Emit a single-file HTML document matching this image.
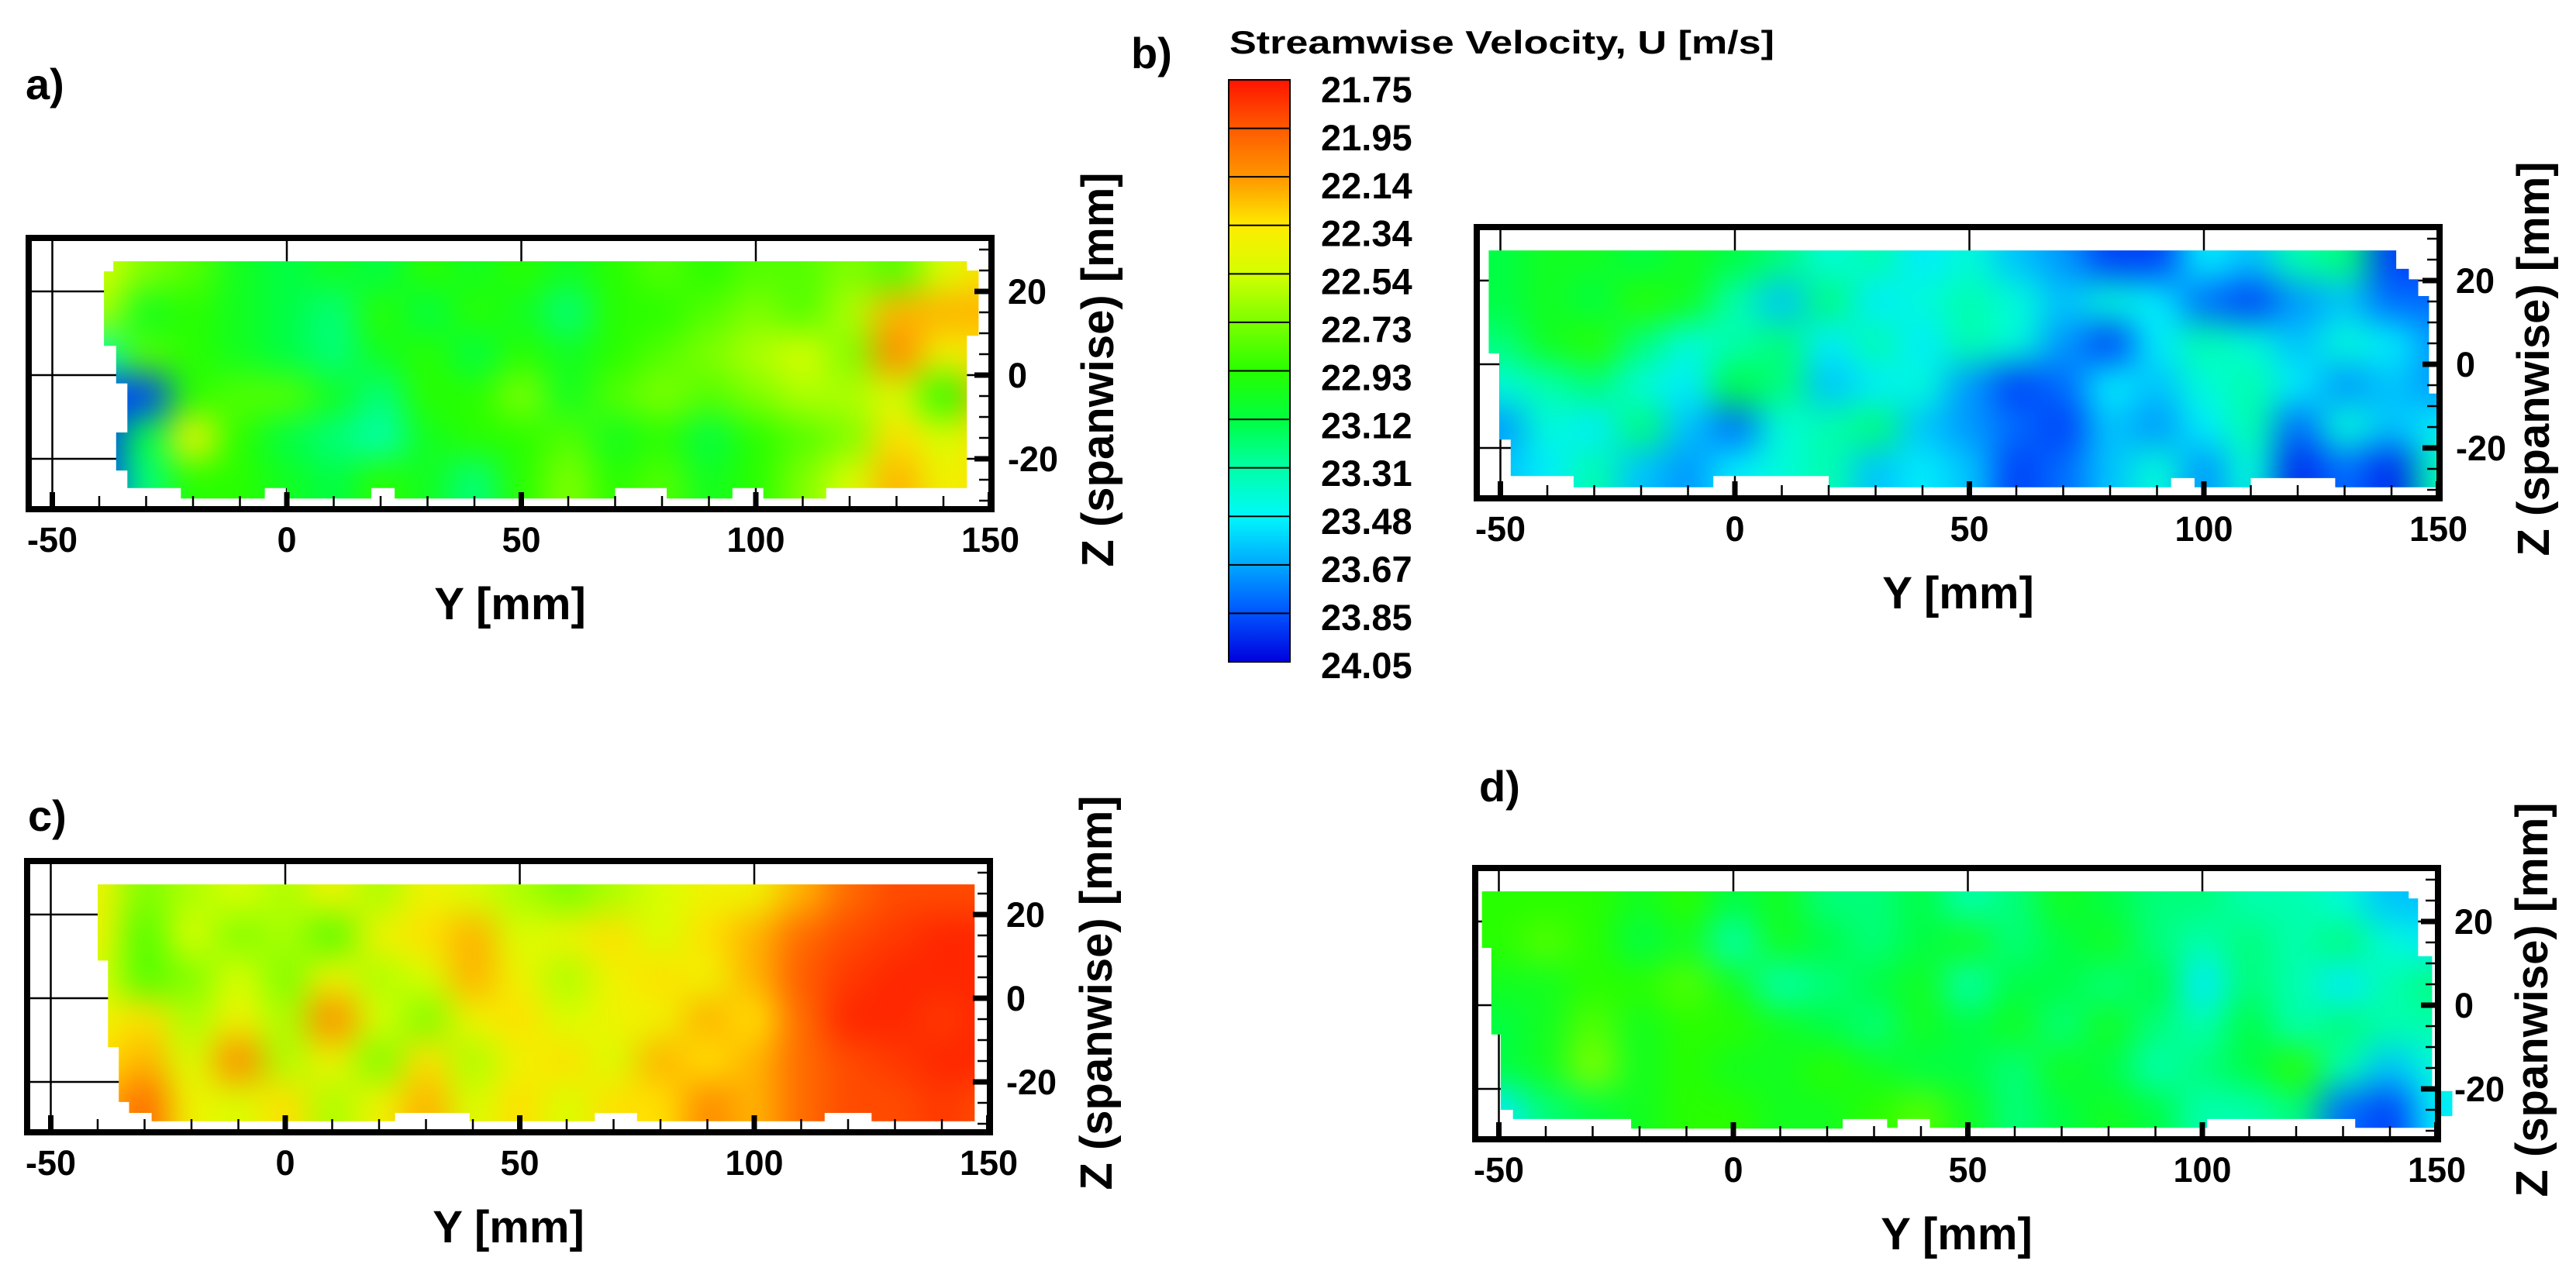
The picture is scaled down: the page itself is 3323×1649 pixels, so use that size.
<!DOCTYPE html>
<html><head><meta charset="utf-8"><title>Streamwise velocity contours</title>
<style>
html,body{margin:0;padding:0;background:#fff;}
svg{display:block;}
text{font-family:"Liberation Sans",Arial,sans-serif;font-weight:bold;fill:#000;}
</style></head>
<body>
<svg id="fig" xmlns="http://www.w3.org/2000/svg" width="3323" height="1649" viewBox="0 0 3323 1649">
<rect x="0" y="0" width="3323" height="1649" fill="#fff"/>
<defs>
<filter id="blur" filterUnits="userSpaceOnUse" x="0" y="0" width="3323" height="1649" color-interpolation-filters="sRGB"><feGaussianBlur stdDeviation="22"/></filter>
<linearGradient id="cbgrad" x1="0" y1="0" x2="0" y2="1"></linearGradient>
</defs>
</svg>
<script>
// ---- data ----
const Y_TICKS = [-50, 0, 50, 100, 150];
const Z_TICKS = [20, 0, -20];
const COLS = [-50,-40,-30,-20,-10,0,10,20,30,40,50,60,70,80,90,100,110,120,130,140,150];
const ROWS = [25, 15, 5, -5, -15, -25];
const CB_LEVELS = [21.75,21.95,22.14,22.34,22.54,22.73,22.93,23.12,23.31,23.48,23.67,23.85,24.05];

const A_VALUES = [
[22.9,22.5,22.7,22.8,23.0,23.1,23.0,23.1,22.9,23.0,22.9,23.0,22.9,22.8,22.9,22.8,22.8,22.7,22.8,22.5,22.3],
[22.9,22.6,23.0,22.9,23.0,23.1,23.2,22.9,23.1,22.9,23.0,23.2,22.9,22.9,22.8,22.7,22.8,22.6,22.2,22.2,22.2],
[23.3,23.3,22.8,22.9,23.0,23.1,23.2,23.0,22.9,23.1,22.9,23.0,22.9,22.8,22.7,22.6,22.5,22.7,22.1,22.4,22.3],
[23.9,23.9,23.9,22.9,22.8,22.8,23.0,23.2,22.9,22.9,22.7,23.0,22.8,22.7,22.8,22.7,22.6,22.6,22.5,22.9,22.2],
[24.0,23.9,23.1,22.4,22.9,23.1,23.2,23.3,23.0,22.9,22.9,22.8,23.0,22.9,23.1,22.9,22.8,22.7,22.3,22.5,22.3],
[24.0,23.9,23.2,22.9,22.9,23.0,23.1,22.9,23.0,23.2,22.9,22.7,22.9,22.8,23.0,22.9,22.7,22.5,22.2,22.4,22.3]
];
const B_VALUES = [
[23.1,23.0,23.0,23.1,23.0,23.1,23.2,23.4,23.3,23.5,23.4,23.6,23.7,23.9,23.9,23.5,23.6,23.3,23.2,23.9,23.9],
[23.1,23.0,23.1,22.9,23.0,23.3,23.6,23.2,23.5,23.4,23.3,23.4,23.6,23.4,23.5,23.8,23.9,23.7,23.6,23.8,23.8],
[23.2,23.0,22.9,23.2,23.4,23.3,23.2,23.5,23.3,23.5,23.3,23.4,23.7,23.9,23.5,23.3,23.4,23.6,23.4,23.5,23.7],
[23.4,23.3,23.2,23.4,23.5,23.1,23.2,23.6,23.5,23.4,23.7,23.9,23.8,23.5,23.6,23.4,23.3,23.5,23.7,23.6,23.7],
[23.7,23.4,23.5,23.2,23.6,23.8,23.4,23.3,23.2,23.6,23.7,23.8,23.9,23.6,23.7,23.5,23.3,23.8,23.4,23.6,23.5],
[23.6,23.5,23.3,23.6,23.7,23.5,23.4,23.3,23.6,23.5,23.6,23.9,23.8,23.6,23.4,23.7,23.4,23.95,23.8,23.95,23.3]
];
const C_VALUES = [
[22.6,22.4,22.7,22.6,22.5,22.6,22.4,22.6,22.4,22.5,22.6,22.7,22.6,22.5,22.4,22.4,22.2,22.0,21.9,21.9,21.9],
[22.5,22.4,22.8,22.5,22.7,22.6,22.8,22.4,22.3,22.2,22.5,22.4,22.3,22.5,22.3,22.2,22.0,21.9,21.85,21.8,21.8],
[22.6,22.5,22.8,22.7,22.5,22.7,22.4,22.6,22.5,22.2,22.4,22.6,22.4,22.3,22.4,22.2,21.95,21.85,21.8,21.8,21.8],
[22.6,22.4,22.3,22.6,22.4,22.6,22.1,22.5,22.7,22.4,22.3,22.5,22.4,22.4,22.2,22.3,22.0,21.8,21.8,21.85,21.8],
[22.3,22.3,22.2,22.5,22.1,22.6,22.4,22.7,22.3,22.6,22.4,22.3,22.5,22.2,22.3,22.2,22.0,21.9,21.85,21.8,21.8],
[22.2,22.2,22.0,22.4,22.5,22.3,22.6,22.4,22.2,22.5,22.3,22.5,22.3,22.3,22.1,22.2,22.0,21.9,21.9,21.85,21.9]
];
const D_VALUES = [
[22.9,22.9,22.9,23.0,22.9,23.1,23.0,23.2,23.2,23.1,23.3,23.2,23.0,23.1,23.2,23.2,23.3,23.3,23.4,23.6,23.6],
[22.9,22.8,22.9,23.1,23.0,23.3,23.0,23.1,23.2,23.1,23.0,23.2,23.1,23.0,23.2,23.3,23.2,23.3,23.2,23.4,23.5],
[23.0,23.0,22.9,22.9,22.8,23.0,23.3,23.2,23.1,23.0,23.3,23.1,23.1,23.2,23.1,23.5,23.2,23.3,23.5,23.3,23.2],
[23.1,23.0,22.8,23.0,22.9,22.9,23.0,23.1,23.2,23.0,23.1,23.0,23.2,23.0,23.2,23.3,23.1,23.3,23.2,23.3,23.3],
[23.1,23.0,22.7,23.0,22.9,23.0,23.0,22.9,23.0,23.1,23.1,23.2,23.0,23.1,23.3,23.2,23.1,22.9,23.3,23.6,23.4],
[23.5,23.2,23.1,23.0,22.9,22.9,23.0,23.0,22.9,22.8,23.0,23.2,23.1,23.0,23.1,23.3,23.3,23.2,23.8,23.9,23.5]
];

// measurement-region outlines in [Y mm, Z mm]
const A_OUTLINE = [[-37,27.2],[145,27.2],[145,25],[147.5,25],[147.5,9.4],[145,9.4],[145,-27],[115,-27],[115,-29.5],[101.6,-29.5],[101.6,-27],[95,-27],[95,-29.5],[81,-29.5],[81,-27],[70,-27],[70,-29.5],[23,-29.5],[23,-27],[18,-27],[18,-29.5],[0,-29.5],[0,-27],[-4.7,-27],[-4.7,-29.5],[-22.6,-29.5],[-22.6,-27],[-34,-27],[-34,-22.8],[-36.4,-22.8],[-36.4,-13.7],[-34,-13.7],[-34,-2],[-36.4,-2],[-36.4,7],[-39,7],[-39,24.8],[-37,24.8]];
const B_OUTLINE = [[-52.5,27.2],[141,27.2],[141,22.8],[143.7,22.8],[143.7,20.3],[145.7,20.3],[145.7,16.3],[148,16.3],[148,-7],[150,-7],[150,-29.4],[128,-29.4],[128,-27.2],[110,-27.2],[110,-29.4],[98,-29.4],[98,-27.2],[93,-27.2],[93,-29.4],[20,-29.4],[20,-26.7],[-4.6,-26.7],[-4.6,-29.4],[-34.4,-29.4],[-34.4,-26.7],[-47.8,-26.7],[-47.8,-18],[-50.2,-18],[-50.2,2.6],[-52.5,2.6]];
const C_OUTLINE = [[-40,27.2],[147,27.2],[147,-29.4],[125,-29.4],[125,-27.4],[115,-27.4],[115,-29.4],[75,-29.4],[75,-27.4],[66,-27.4],[66,-29.4],[39.3,-29.4],[39.3,-27.4],[23.4,-27.4],[23.4,-29.4],[-28.5,-29.4],[-28.5,-27.4],[-33.3,-27.4],[-33.3,-24.8],[-35.5,-24.8],[-35.5,-11.7],[-37.8,-11.7],[-37.8,9],[-40,9]];
const D_OUTLINE = [[-53.6,27.2],[144,27.2],[144,25.5],[146,25.5],[146,11.7],[149,11.7],[149,-20.5],[153.3,-20.5],[153.3,-26.5],[150,-26.5],[150,-29.3],[132.6,-29.3],[132.6,-27.2],[101,-27.2],[101,-29.3],[41.9,-29.3],[41.9,-27.2],[35,-27.2],[35,-29.3],[32.8,-29.3],[32.8,-27.2],[23.3,-27.2],[23.3,-29.5],[-21.8,-29.5],[-21.8,-27.2],[-47,-27.2],[-47,-25],[-49.6,-25],[-49.6,-7],[-51.6,-7],[-51.6,13.7],[-53.6,13.7]];

// ---- rendering ----
const NS = "http://www.w3.org/2000/svg";
const svg = document.getElementById('fig');
const defs = svg.querySelector('defs');
function el(tag, attrs, parent){
  const e = document.createElementNS(NS, tag);
  for (const k in attrs) e.setAttribute(k, attrs[k]);
  parent.appendChild(e);
  return e;
}
const STOPS = [[0,[255,20,0]],[0.083,[255,90,0]],[0.167,[255,150,0]],[0.25,[255,235,0]],[0.33,[215,255,0]],[0.42,[120,255,0]],[0.5,[40,255,0]],[0.58,[0,255,60]],[0.67,[0,255,170]],[0.75,[0,248,250]],[0.83,[0,170,255]],[0.92,[0,80,255]],[1,[0,0,220]]];
const VMIN = CB_LEVELS[0], VMAX = CB_LEVELS[CB_LEVELS.length-1];
function cmap(v){
  let t = (v - VMIN) / (VMAX - VMIN);
  t = Math.max(0, Math.min(1, t));
  for (let i = 1; i < STOPS.length; i++){
    if (t <= STOPS[i][0]){
      const a = STOPS[i-1], b = STOPS[i];
      const f = (t - a[0]) / (b[0] - a[0]);
      const c = a[1].map((x, j) => Math.round(x + (b[1][j] - x) * f));
      return `rgb(${c[0]},${c[1]},${c[2]})`;
    }
  }
  return 'rgb(0,0,220)';
}

const PANELS = [
  {id:'a', left:33,   top:303,  values:A_VALUES, outline:A_OUTLINE, zt:153, lx:33,   ly:128},
  {id:'b', left:1901, top:289,  values:B_VALUES, outline:B_OUTLINE, zt:137, lx:1459, ly:88},
  {id:'c', left:31,   top:1107, values:C_VALUES, outline:C_OUTLINE, zt:153, lx:36,   ly:1072},
  {id:'d', left:1899, top:1116, values:D_VALUES, outline:D_OUTLINE, zt:137, lx:1908, ly:1034}
];
const W = 1250, H = 358, PXMM_Y = 6.05, PXMM_Z = 5.4;

PANELS.forEach(p => {
  const xs = Y => p.left + 337 + Y * PXMM_Y;
  const zs = Z => p.top + 181 - Z * PXMM_Z;
  const g = el('g', {}, svg);
  
  

  const lab = el('text', {x:p.lx, y:p.ly, 'font-size':56}, g);
  lab.textContent = p.id + ')';
  
  

  const grid = el('g', {stroke:'#000', 'stroke-width':2.5}, g);
  
  
  Y_TICKS.forEach(t => {
    if (t === 150) return;
    const l = el('line', {x1:xs(t), x2:xs(t), y1:p.top, y2:p.top + H}, grid);
    
    
  });
  Z_TICKS.forEach(t => {
    const l = el('line', {x1:p.left, x2:p.left + W, y1:zs(t), y2:zs(t)}, grid);
    
    
  });

  const cp = el('clipPath', {id:'clip-' + p.id}, defs);
  el('polygon', {points:p.outline.map(q => xs(q[0]).toFixed(1) + ',' + zs(q[1]).toFixed(1)).join(' ')}, cp);

  const clipG = el('g', {'clip-path':'url(#clip-' + p.id + ')'}, g);
  
  
  const heat = el('g', {filter:'url(#blur)'}, clipG);
  ROWS.forEach((Z, r) => {
    COLS.forEach((Y, c) => {
      let x0 = xs(Y - 5), x1 = xs(Y + 5), y0 = zs(Z + 5), y1 = zs(Z - 5);
      if (c === 0) x0 -= 80;
      if (c === COLS.length - 1) x1 += 80;
      if (r === 0) y0 -= 80;
      if (r === ROWS.length - 1) y1 += 80;
      const cell = el('rect', {x:x0.toFixed(1), y:y0.toFixed(1), width:(x1 - x0 + 1).toFixed(1), height:(y1 - y0 + 1).toFixed(1), fill:cmap(p.values[r][c])}, heat);
      
      
    });
  });

  const fr = el('rect', {x:p.left + 4, y:p.top + 4, width:W - 8, height:H - 8, fill:'none', stroke:'#000', 'stroke-width':8}, g);
  
  

  const bottom = p.top + H - 8;
  for (let t = -50; t <= 150; t += 10){
    const major = Y_TICKS.includes(t);
    const tw = major ? 7 : 2.5, th = major ? 18 : 13;
    const tk = el('rect', {x:xs(t) - tw / 2, y:bottom - th, width:tw, height:th, fill:'#000'}, g);
    
    
  }
  Y_TICKS.forEach(t => {
    const tl = el('text', {x:xs(t), y:p.top + H + 51, 'font-size':45, 'text-anchor':'middle'}, g);
    tl.textContent = String(t);
    
    
  });
  const right = p.left + W - 8;
  for (let t = -30; t <= 30; t += 5){
    const major = Z_TICKS.includes(t);
    const tw = major ? 18 : 12, th = major ? 7 : 2.5;
    const tk = el('rect', {x:right - tw, y:zs(t) - th / 2, width:tw, height:th, fill:'#000'}, g);
    
    
  }
  Z_TICKS.forEach(t => {
    const tl = el('text', {x:p.left + W + 17, y:zs(t) + 16, 'font-size':45}, g);
    tl.textContent = String(t);
    
    
  });

  const xt = el('text', {x:p.left + W / 2, y:p.top + H + 138, 'font-size':58, 'text-anchor':'middle'}, g);
  xt.textContent = 'Y [mm]';
  
  
  const zx = p.left + W + p.zt, zy = p.top + H / 2 - 5;
  const zt = el('text', {x:zx, y:zy, 'font-size':58, 'text-anchor':'middle', transform:`rotate(-90 ${zx} ${zy})`}, g);
  zt.textContent = 'Z (spanwise) [mm]';
  
  
});

// ---- colour bar ----
const CB = {x:1585, y:103, w:79, h:751};
const grad = document.getElementById('cbgrad');
for (let i = 0; i <= 24; i++){
  const t = i / 24;
  el('stop', {offset:t, 'stop-color':cmap(VMIN + t * (VMAX - VMIN))}, grad);
}
const cb = el('g', {}, svg);


const cbt = el('text', {x:1586, y:69, 'font-size':42, textLength:703, lengthAdjust:'spacingAndGlyphs'}, cb);
cbt.textContent = 'Streamwise Velocity, U [m/s]';


const cbr = el('rect', {x:CB.x, y:CB.y, width:CB.w, height:CB.h, fill:'url(#cbgrad)', stroke:'#000', 'stroke-width':2}, cb);


const nb = CB_LEVELS.length - 1;
for (let i = 1; i < nb; i++){
  const yy = CB.y + CB.h * i / nb;
  const ln = el('line', {x1:CB.x, x2:CB.x + CB.w, y1:yy, y2:yy, stroke:'#000', 'stroke-width':2}, cb);
  
  
}
CB_LEVELS.forEach((v, i) => {
  const tl = el('text', {x:1704, y:115 + 61.9 * i + 17, 'font-size':47}, cb);
  tl.textContent = v.toFixed(2);
  
  
});
</script>
</body></html>
